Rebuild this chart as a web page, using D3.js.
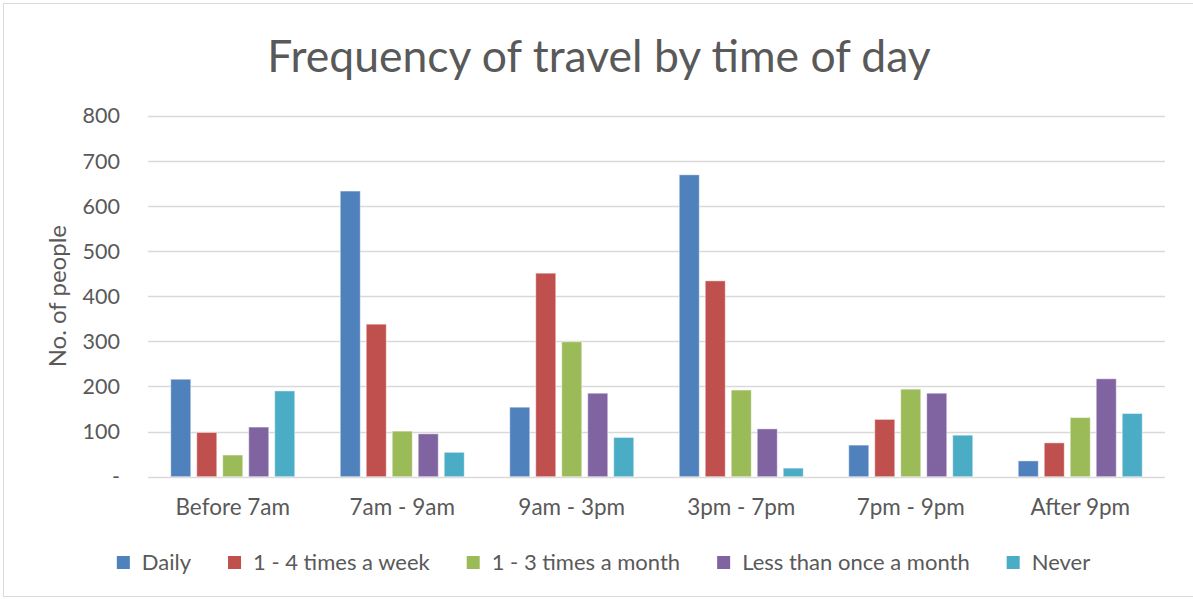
<!DOCTYPE html>
<html>
<head>
<meta charset="utf-8">
<script src="https://cdn.jsdelivr.net/npm/d3@7"></script>
<style>
  body { margin: 0; background: #fff; }
  text { font-family: Lato, "Open Sans", sans-serif; fill: #595959; }
</style>
</head>
<body>
<svg id="chart" width="1193" height="599"></svg>
<script>
// categories and series
var categories = ["Before 7am", "7am - 9am", "9am - 3pm", "3pm - 7pm", "7pm - 9pm", "After 9pm"];
var seriesNames = ["Daily", "1 - 4 times a week", "1 - 3 times a month", "Less than once a month", "Never"];
var daily = [216, 633, 154, 669, 70, 35];
var perWeek = [98, 338, 451, 434, 127, 75];
var perMonth = [48, 101, 299, 192, 194, 131];
var lessThanMonthly = [110, 95, 185, 106, 185, 217];
var never = [190, 54, 87, 19, 92, 140];
var yTicks = [0, 100, 200, 300, 400, 500, 600, 700, 800];

var colors = ["#4f81bd", "#c0504d", "#9bbb59", "#8064a2", "#4bacc6"];
var seriesValues = [daily, perWeek, perMonth, lessThanMonthly, never];

var W = 1193, H = 599;
var plot = {left: 148, right: 1165, top: 115.7, bottom: 476.7};

var svg = d3.select("#chart");

// chart border
svg.append("rect")
  .attr("x", 3.5).attr("y", 3.5)
  .attr("width", W + 10).attr("height", H - 6)
  .attr("fill", "none")
  .attr("stroke", "#d9d9d9")
  .attr("stroke-width", 1);

var x0 = d3.scaleBand()
  .domain(categories)
  .range([plot.left, plot.right])
  .padding(0);

var groupPad = 22.75;
var x1 = d3.scaleBand()
  .domain(seriesNames)
  .range([groupPad, x0.bandwidth() - groupPad])
  .paddingInner(0.23)
  .paddingOuter(0);

var y = d3.scaleLinear()
  .domain([0, 800])
  .range([plot.bottom, plot.top]);

// gridlines
svg.append("g").attr("class", "grid")
  .selectAll("line")
  .data(yTicks)
  .enter()
  .append("line")
  .attr("x1", plot.left)
  .attr("x2", plot.right)
  .attr("y1", function(d){ return Math.round(y(d)) + 0.5; })
  .attr("y2", function(d){ return Math.round(y(d)) + 0.5; })
  .attr("stroke", "#d9d9d9")
  .attr("stroke-width", 1.3);

// y tick labels
svg.append("g")
  .selectAll("text")
  .data(yTicks)
  .enter()
  .append("text")
  .attr("x", 120)
  .attr("y", function(d){ return y(d); })
  .attr("dy", "0.36em")
  .attr("text-anchor", "end")
  .style("font-size", "21.5px")
  .text(function(d){ return d === 0 ? "-" : d; });

// y axis title
svg.append("text")
  .attr("transform", "translate(66," + ((plot.top + plot.bottom) / 2) + ") rotate(-90)")
  .attr("text-anchor", "middle")
  .style("font-size", "24px")
  .text("No. of people");

// bars
var rows = categories.map(function(c, i) {
  return seriesNames.map(function(s, j) {
    return {cat: c, series: s, value: seriesValues[j][i], color: colors[j]};
  });
});

var groups = svg.append("g").attr("id", "bars")
  .selectAll("g")
  .data(rows)
  .enter()
  .append("g")
  .attr("transform", function(d){ return "translate(" + x0(d[0].cat) + ",0)"; });

groups.selectAll("rect")
  .data(function(d){ return d; })
  .enter()
  .append("rect")
  .attr("x", function(d){ return x1(d.series); })
  .attr("width", x1.bandwidth())
  .attr("y", function(d){ return y(d.value); })
  .attr("height", function(d){ return y(0) - y(d.value); })
  .attr("fill", function(d){ return d.color; })
  .attr("stroke", "#ffffff")
  .attr("stroke-opacity", 0.45)
  .attr("stroke-width", 1);

// category labels
svg.append("g")
  .selectAll("text")
  .data(categories)
  .enter()
  .append("text")
  .attr("x", function(d){ return x0(d) + x0.bandwidth() / 2; })
  .attr("y", 515)
  .attr("text-anchor", "middle")
  .style("font-size", "22.5px")
  .text(function(d){ return d; });

// title
svg.append("text")
  .attr("x", 599)
  .attr("y", 72)
  .attr("text-anchor", "middle")
  .style("font-size", "44.5px")
  .text("Frequency of travel by time of day");

// legend
var legend = svg.append("g").attr("id", "legend");
var items = legend.selectAll("g")
  .data(seriesNames)
  .enter()
  .append("g");

items.append("rect")
  .attr("width", 13).attr("height", 13)
  .attr("y", 556)
  .attr("fill", function(d, i){ return colors[i]; });

items.append("text")
  .attr("x", 25)
  .attr("y", 569.5)
  .style("font-size", "22px")
  .text(function(d){ return d; });

var offset = 0;
var positions = [];
items.each(function(d, i) {
  var w = d3.select(this).select("text").node().getComputedTextLength();
  positions.push(offset);
  offset += 25 + w + 37;
});
var total = offset - 37;
var start = (W - total) / 2 + 7;
items.attr("transform", function(d, i){ return "translate(" + (start + positions[i]) + ",0)"; });
</script>
</body>
</html>
